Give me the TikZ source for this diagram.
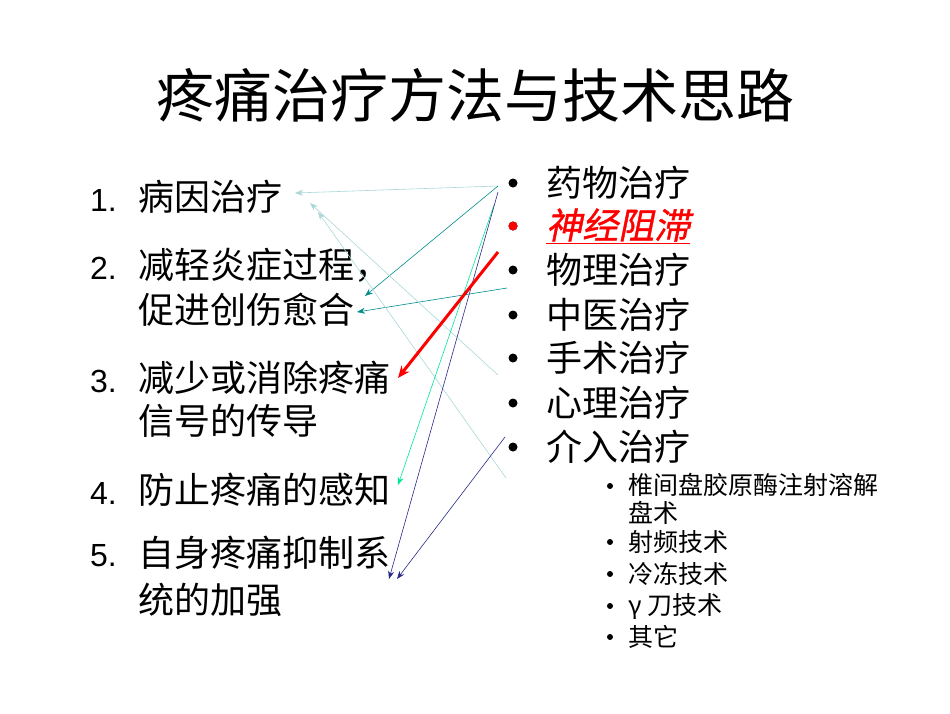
\documentclass[tikz,border=0pt]{standalone}
\usepackage{fontspec}
\setmainfont{Liberation Sans}
\newfontfamily\cjk{Noto Sans CJK SC}
\newfontfamily\cjkit{Noto Sans CJK SC}[FakeSlant=0.2,FakeBold=1]
\usetikzlibrary{arrows.meta}
\begin{document}
\begin{tikzpicture}[x=1pt,y=-1pt,
  lt/.style={anchor=west,inner sep=0pt,font=\fontsize{36}{38}\selectfont\cjk},
  num/.style={anchor=west,inner sep=0pt,font=\fontsize{32}{34}\selectfont},
  bul/.style={circle,fill=black,inner sep=0pt,minimum size=9pt},
  sub/.style={anchor=west,inner sep=0pt,font=\fontsize{25}{27}\selectfont\cjk},
  sbul/.style={circle,fill=black,inner sep=0pt,minimum size=6pt},
  ar/.style={-{Stealth[length=8pt,width=6pt]},line width=0.6pt},
  lc/.style={ar,draw={rgb,255:red,170;green,215;blue,215}},
  tl/.style={ar,draw={rgb,255:red,0;green,140;blue,140}},
  gr/.style={ar,draw={rgb,255:red,0;green,230;blue,150}},
  nv/.style={ar,draw={rgb,255:red,40;green,40;blue,140}}]
\useasboundingbox (0,0) rectangle (950,713);
\node[inner sep=0pt,font=\fontsize{58}{62}\selectfont\cjk] (title) at (475,95) {疼痛治疗方法与技术思路};
% left list
\foreach \n/\y in {1/197,2/265,3/378,4/490,5/553}{\node[num] (n\n) at (90,\y+3) {\n.};}
\node[lt] (l1) at (138,197) {病因治疗};
\node[lt] (l2a) at (138,265) {减轻炎症过程，};
\node[lt] (l2b) at (138,310) {促进创伤愈合};
\node[lt] (l3a) at (138,378) {减少或消除疼痛};
\node[lt] (l3b) at (138,421) {信号的传导};
\node[lt] (l4) at (138,490) {防止疼痛的感知};
\node[lt] (l5a) at (138,553) {自身疼痛抑制系};
\node[lt] (l5b) at (138,600) {统的加强};
% right list
\foreach \i/\y in {1/183,2/226,3/270,4/315,5/358,6/403,7/447}{\node[bul] (b\i) at (513,\y) {};}
\node[bul,fill=red] at (513,226) {};
\node[lt] (r1) at (546,183) {药物治疗};
\node[lt,text=red] (r2) at (546,226) {\cjkit\underline{神经阻滞}};
\node[lt] (r3) at (546,270) {物理治疗};
\node[lt] (r4) at (546,315) {中医治疗};
\node[lt] (r5) at (546,358) {手术治疗};
\node[lt] (r6) at (546,403) {心理治疗};
\node[lt] (r7) at (546,447) {介入治疗};
\foreach \i/\y in {1/486,2/542,3/574,4/606,5/637}{\node[sbul] (s\i) at (610,\y) {};}
\node[sub] (t1) at (628,485) {椎间盘胶原酶注射溶解};
\node[sub] (t1b) at (628,513) {盘术};
\node[sub] (t2) at (628,542) {射频技术};
\node[sub] (t3) at (628,574) {冷冻技术};
\node[sub] (t4) at (628,606) {γ 刀技术};
\node[sub] (t5) at (628,637) {其它};
% arrow coordinates
\coordinate (a1) at (498,186); \coordinate (e1) at (295,193);
\coordinate (e2) at (365,296);
\coordinate (a3) at (507,288); \coordinate (e3) at (357,312);
\coordinate (a4) at (498,252); \coordinate (e4) at (398,378);
\coordinate (a5) at (498,375); \coordinate (e5) at (310,203);
\coordinate (a6) at (506,478); \coordinate (e6) at (318,212);
\coordinate (a7) at (494,205); \coordinate (e7) at (398,485);
\coordinate (a8) at (498,192); \coordinate (e8) at (389,579);
\coordinate (a9) at (505,437); \coordinate (e9) at (397,579);
\draw[lc] (a1) -- (e1);
\draw[tl] (a1) -- (e2);
\draw[tl] (a3) -- (e3);
\draw[lc] (a5) -- (e5);
\draw[lc] (a6) -- (e6);
\draw[gr] (a7) -- (e7);
\draw[nv] (a8) -- (e8);
\draw[nv] (a9) -- (e9);
\draw[red,line width=3pt,-{Stealth[length=12pt,width=10pt,open]}] (a4) -- (e4);
\end{tikzpicture}
\end{document}
